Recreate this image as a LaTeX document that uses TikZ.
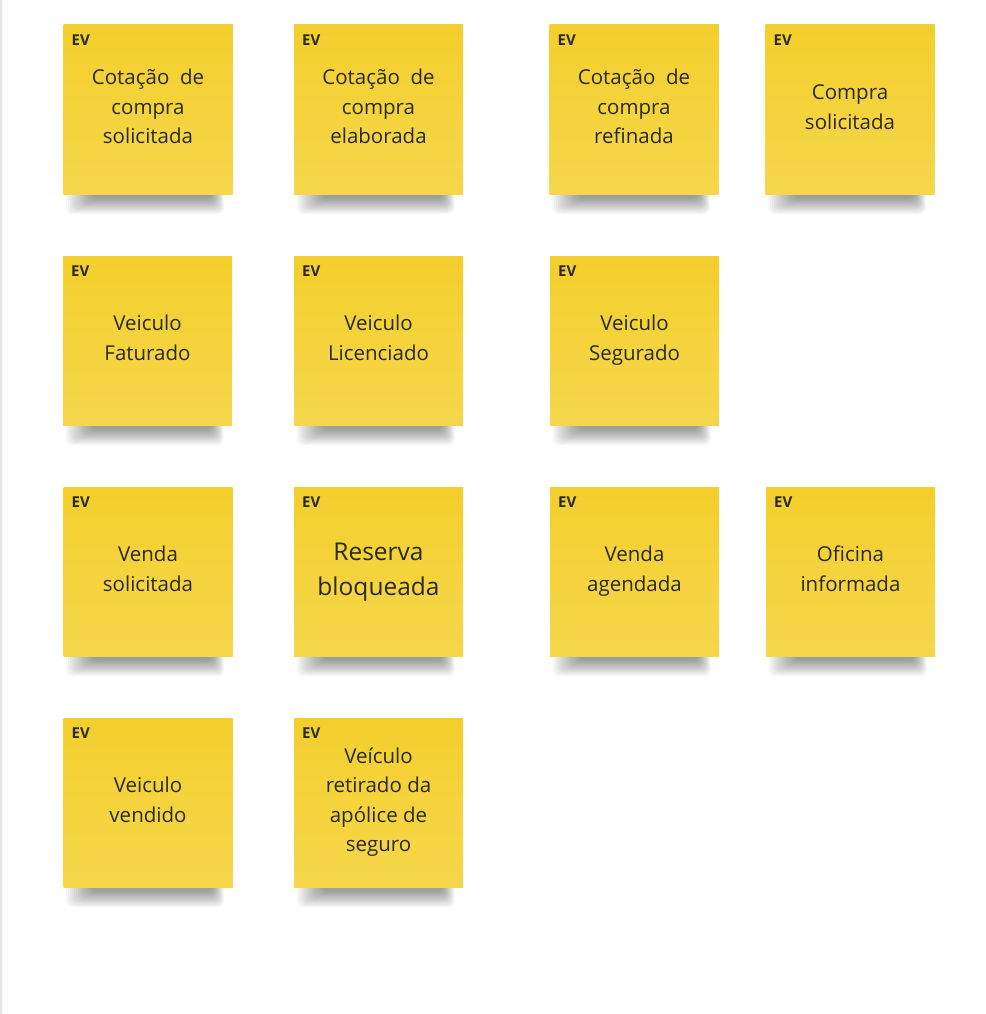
\documentclass[tikz,border=0pt]{standalone}
\usepackage{fontspec}
\setmainfont{Open Sans}
\definecolor{noteTop}{HTML}{F3CF2C}
\definecolor{noteBot}{HTML}{F6D74C}
\definecolor{inkc}{HTML}{2A2A22}
\definecolor{edgegray}{HTML}{E6E6E6}
\newcommand\normtxt{\fontsize{20.5}{29.5}\selectfont}
\newcommand\bigtxt{\fontsize{24.5}{35}\selectfont}
% \sticky[font]{name}{center x}{top y}{text}
\newcommand\sticky[5][\normtxt]{%
  \foreach \k in {0,...,13}{%
    \fill[black,opacity=0.03,rounded corners=6pt]
      (#3-82+\k*2,#4+158+\k*0.3) rectangle (#3+76-\k*0.9,#4+189-\k*1.2);
  }
  \node[note] (#2) at (#3,#4+84.5) {};
  \node[evlabel] (#2-ev) at (#3-76.5,#4+15.5) {EV};
  \node[notetext,font=#1] (#2-t) at (#3,#4+83.5) {\strut #5\strut};
}
\begin{document}
\begin{tikzpicture}[x=1pt,y=-1pt,
  note/.style={minimum width=169pt,minimum height=169pt,inner sep=0pt,
    draw=none,top color=noteTop,bottom color=noteBot},
  evlabel/.style={anchor=west,inner sep=0pt,text=inkc,
    font=\fontsize{15}{17}\selectfont\bfseries},
  notetext/.style={align=center,inner sep=0pt,text=inkc}]
\fill[white] (0,0) rectangle (985,1014);
\useasboundingbox (0,0) rectangle (985,1014);
\fill[edgegray] (0,0) rectangle (1.5,1014);
% row 1
\sticky{n1}{148}{25}{Cotação\ \ de\\compra\\solicitada}
\sticky{n2}{378.5}{25}{Cotação\ \ de\\compra\\elaborada}
\sticky{n3}{634}{25}{Cotação\ \ de\\compra\\refinada}
\sticky{n4}{850}{25}{Compra\\solicitada}
% row 2
\sticky{n5}{147.5}{256}{Veiculo\\Faturado}
\sticky{n6}{378.5}{256}{Veiculo\\Licenciado}
\sticky{n7}{634.5}{256}{Veiculo\\Segurado}
% row 3
\sticky{n8}{148}{487}{Venda\\solicitada}
\sticky[\bigtxt]{n9}{378.5}{487}{Reserva\\bloqueada}
\sticky{n10}{634.5}{487}{Venda\\agendada}
\sticky{n11}{850.5}{487}{Oficina\\informada}
% row 4
\sticky{n12}{148}{718}{Veiculo\\vendido}
\sticky{n13}{378.5}{718}{Veículo\\retirado da\\apólice de\\seguro}
\end{tikzpicture}
\end{document}
